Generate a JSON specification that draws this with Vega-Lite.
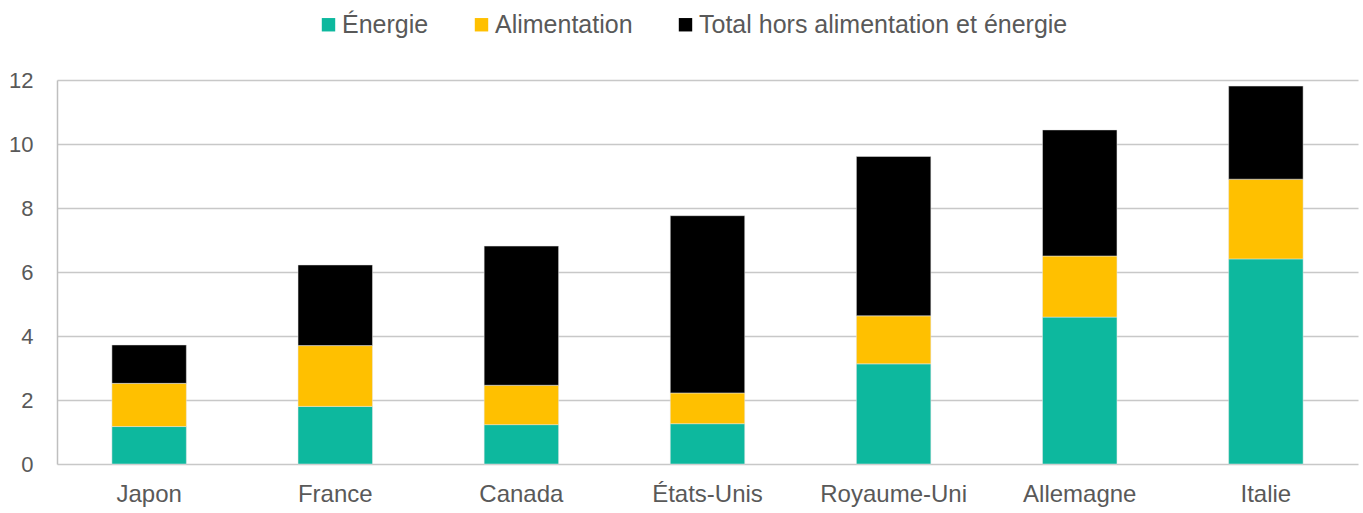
{
  "$schema": "https://vega.github.io/schema/vega-lite/v6.json",
  "width": 1301,
  "height": 384,
  "autosize": {"type": "none"},
  "padding": {"left": 57, "top": 80, "right": 5, "bottom": 49},
  "background": "white",
  "config": {
    "view": {"stroke": null},
    "font": "Liberation Sans"
  },
  "data": {
    "values": [
      {"pays": "Japon", "composante": "Énergie", "valeur": 1.17},
      {"pays": "Japon", "composante": "Alimentation", "valeur": 1.35},
      {"pays": "Japon", "composante": "Total hors alimentation et énergie", "valeur": 1.20},
      {"pays": "France", "composante": "Énergie", "valeur": 1.80},
      {"pays": "France", "composante": "Alimentation", "valeur": 1.90},
      {"pays": "France", "composante": "Total hors alimentation et énergie", "valeur": 2.52},
      {"pays": "Canada", "composante": "Énergie", "valeur": 1.23},
      {"pays": "Canada", "composante": "Alimentation", "valeur": 1.23},
      {"pays": "Canada", "composante": "Total hors alimentation et énergie", "valeur": 4.35},
      {"pays": "États-Unis", "composante": "Énergie", "valeur": 1.26},
      {"pays": "États-Unis", "composante": "Alimentation", "valeur": 0.96},
      {"pays": "États-Unis", "composante": "Total hors alimentation et énergie", "valeur": 5.54},
      {"pays": "Royaume-Uni", "composante": "Énergie", "valeur": 3.13},
      {"pays": "Royaume-Uni", "composante": "Alimentation", "valeur": 1.50},
      {"pays": "Royaume-Uni", "composante": "Total hors alimentation et énergie", "valeur": 4.98},
      {"pays": "Allemagne", "composante": "Énergie", "valeur": 4.59},
      {"pays": "Allemagne", "composante": "Alimentation", "valeur": 1.91},
      {"pays": "Allemagne", "composante": "Total hors alimentation et énergie", "valeur": 3.94},
      {"pays": "Italie", "composante": "Énergie", "valeur": 6.41},
      {"pays": "Italie", "composante": "Alimentation", "valeur": 2.49},
      {"pays": "Italie", "composante": "Total hors alimentation et énergie", "valeur": 2.91}
    ]
  },
  "transform": [
    {"calculate": "datum.composante === 'Énergie' ? 0 : (datum.composante === 'Alimentation' ? 1 : 2)", "as": "ordre"}
  ],
  "mark": {"type": "bar", "stroke": "#e6e6e6", "strokeWidth": 0.5},
  "encoding": {
    "x": {
      "field": "pays",
      "type": "nominal",
      "sort": ["Japon", "France", "Canada", "États-Unis", "Royaume-Uni", "Allemagne", "Italie"],
      "scale": {"paddingInner": 0.6, "paddingOuter": 0.295},
      "axis": {
        "title": null,
        "labelAngle": 0,
        "labelFontSize": 24,
        "labelColor": "#595959",
        "labelPadding": 18,
        "ticks": false,
        "domain": false
      }
    },
    "y": {
      "field": "valeur",
      "type": "quantitative",
      "stack": "zero",
      "scale": {"domain": [0, 12], "nice": false},
      "axis": {
        "title": null,
        "values": [0, 2, 4, 6, 8, 10, 12],
        "labelFontSize": 22,
        "labelColor": "#595959",
        "labelPadding": 24,
        "ticks": false,
        "domain": true,
        "domainColor": "#bfbfbf",
        "domainWidth": 1.5,
        "grid": true,
        "gridColor": "#c8c8c8",
        "gridWidth": 1.5
      }
    },
    "color": {
      "field": "composante",
      "type": "nominal",
      "sort": ["Énergie", "Alimentation", "Total hors alimentation et énergie"],
      "scale": {
        "domain": ["Énergie", "Alimentation", "Total hors alimentation et énergie"],
        "range": ["#0db89e", "#ffc000", "#000000"]
      },
      "legend": {
        "title": null,
        "orient": "none",
        "direction": "horizontal",
        "legendX": 259,
        "legendY": -68,
        "symbolType": "square",
        "symbolSize": 180,
        "symbolStrokeWidth": 0,
        "labelFontSize": 25,
        "labelColor": "#595959",
        "labelOffset": 1,
        "columnPadding": 40,
        "labelLimit": 600
      }
    },
    "order": {"field": "ordre", "type": "quantitative"}
  }
}
